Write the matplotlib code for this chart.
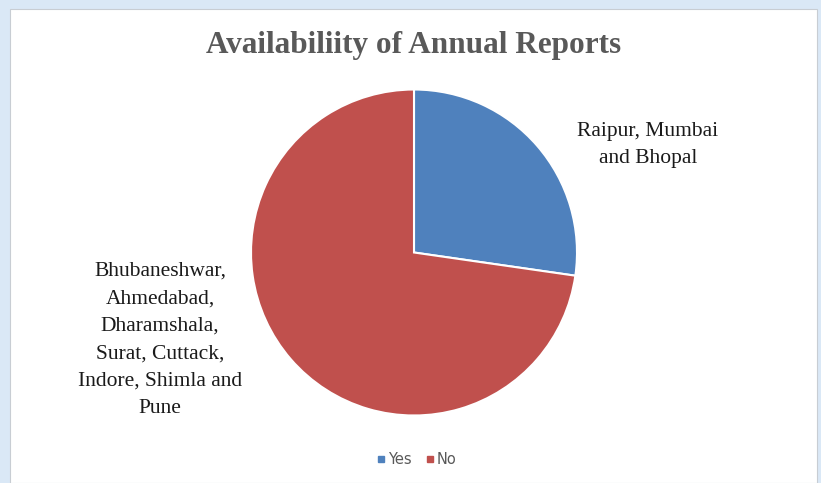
import matplotlib.pyplot as plt
from matplotlib.patches import Rectangle
from matplotlib.lines import Line2D

# Data
categories = ["Yes", "No"]
city_counts = [3, 8]
slice_labels = ["Raipur, Mumbai\nand Bhopal",
                "Bhubaneshwar,\nAhmedabad,\nDharamshala,\nSurat, Cuttack,\nIndore, Shimla and\nPune"]
colors = ["#4F81BD", "#C0504D"]

fig = plt.figure(figsize=(8.21, 4.83), dpi=100)
fig.patch.set_facecolor("#DAE8F6")

# white chart area inside the light blue frame
fig.patches.append(Rectangle((10 / 821, 0), 807 / 821, 474 / 483,
                             transform=fig.transFigure, facecolor="white",
                             edgecolor="#C8CDD3", linewidth=0.8, zorder=-5))

# pie centred at (414, 252) px with radius ~163 px
ax = fig.add_axes([(414 - 163) / 821, (483 - 252.5 - 163) / 483, 326 / 821, 326 / 483])
ax.set_zorder(2)
ax.patch.set_alpha(0)
wedges, _ = ax.pie(city_counts, colors=colors, startangle=90, counterclock=False,
                   radius=1.0, wedgeprops=dict(edgecolor="white", linewidth=1.5))
ax.set_xlim(-1.0, 1.0)
ax.set_ylim(-1.0, 1.0)
ax.set_aspect("equal")
ax.axis("off")

fig.text(414 / 821, 1 - 45 / 483, "Availabiliity of Annual Reports",
         ha="center", va="center", fontsize=22.5, fontweight="bold",
         family="Liberation Serif", color="#595959")

fig.text(648 / 821, 1 - 145 / 483, slice_labels[0], ha="center", va="center",
         fontsize=15.5, family="Liberation Serif", color="#1a1a1a", linespacing=1.6)
fig.text(160 / 821, 1 - 340 / 483, slice_labels[1], ha="center", va="center",
         fontsize=15.5, family="Liberation Serif", color="#1a1a1a", linespacing=1.6)

handles = [Line2D([], [], marker="s", linestyle="", markersize=5,
                  markerfacecolor=c, markeredgecolor=c) for c in colors]
fig.legend(handles, categories, loc="center", bbox_to_anchor=(416 / 821, 1 - 460 / 483),
           ncol=2, frameon=False, fontsize=10.5, handletextpad=0.1, columnspacing=0.8,
           handlelength=0.8, labelcolor="#595959")

fig.savefig("out.png", dpi=100)
